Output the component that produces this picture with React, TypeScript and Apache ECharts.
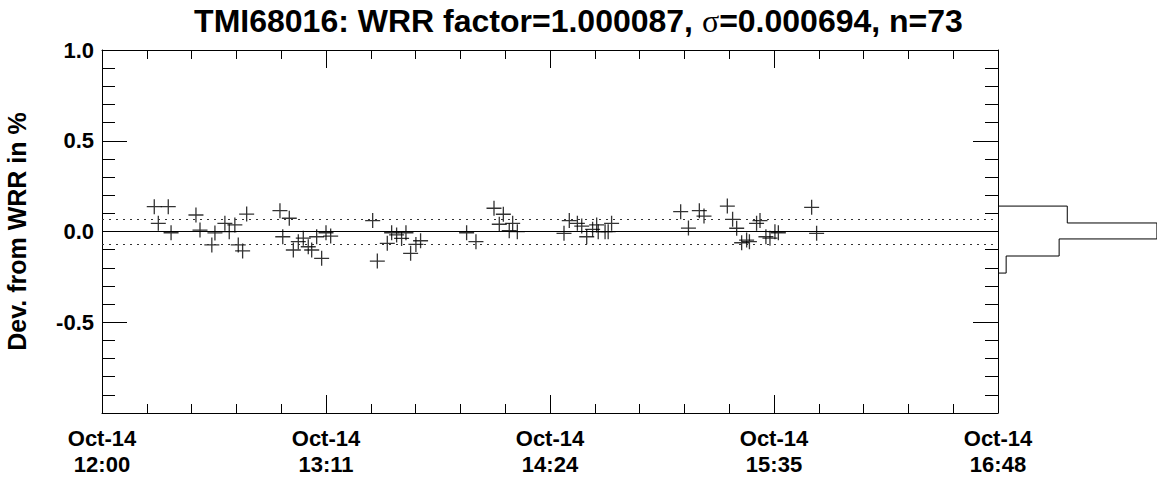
import React, { useEffect, useRef } from 'react';
import * as echarts from 'echarts';

// Minutes after 12:00 on Oct-14
const minutes = [
  16.8, 21.3, 18.1, 22.2, 30.2, 31.5, 36.3, 35.3, 39.5, 40.9, 42.7, 43.8, 45.2, 46.5, 57.2, 60.2, 58.1,
  61.5, 63.1, 64.7, 66.3, 67.4, 69.0, 70.6, 72.0, 73.5, 87.0, 88.5, 91.7, 93.1, 94.7, 96.3, 97.7, 99.2,
  100.9, 102.4, 117.2, 120.2,
  126.0, 129.0, 127.7, 132.0, 130.9, 133.5, 148.5, 150.2, 152.8, 154.2, 155.8, 157.7, 159.0, 159.5,
  161.7, 163.8, 162.7,
  186.0, 188.5, 192.0, 193.5, 201.0, 202.7, 204.0, 205.6, 207.2, 208.1, 210.4, 211.5, 213.4, 214.7,
  216.3, 217.4, 228.1, 229.7,
];
// Deviation from WRR in %
const deviations = [
  0.137, 0.137, 0.045, -0.007, 0.091, 0.008, -0.008, -0.074, 0.045, -0.001, 0.036, -0.074, -0.107, 0.096, 0.115, 0.073, -0.029,
  -0.102, -0.056, -0.037, -0.084, -0.102, -0.029, -0.148, -0.007, -0.025, 0.060, -0.163, -0.065, -0.007, -0.019, -0.038, -0.007, -0.120,
  -0.071, -0.051, -0.007, -0.056,
  0.128, 0.095, 0.040, 0.045, 0.004, -0.001, -0.010, 0.060, 0.045, 0.030, -0.029, 0.012, 0.036, -0.001,
  -0.001, 0.045, -0.001,
  0.109, 0.019, 0.115, 0.085, 0.140, 0.067, 0.018, -0.062, -0.047, -0.056, 0.045, 0.060, -0.029, -0.037,
  -0.001, -0.007, 0.133, -0.010,
];

const xTickLabels = ['Oct-14\n12:00', 'Oct-14\n13:11', 'Oct-14\n14:24', 'Oct-14\n15:35', 'Oct-14\n16:48'];
const xMax = 288;
const xStep = 72;
const zeroLine = 0;
const sigmaLines = [0.074, -0.065];
const histEdges = [0.14, 0.047, -0.041, -0.135, -0.229];
const histCounts = [17, 39, 15, 2];

const FONT = "'Liberation Sans', Arial, sans-serif";

export default function App() {
  const ref = useRef<HTMLDivElement>(null);
  useEffect(() => {
    if (!ref.current) return;
    const chart = echarts.init(ref.current, null, { renderer: 'svg' });
    const points = minutes.map((m, i) => [m, deviations[i]]);
    const hist: number[][] = [[0, histEdges[0]]];
    histCounts.forEach((c, i) => {
      hist.push([c, histEdges[i]]);
      hist.push([c, histEdges[i + 1]]);
    });
    hist.push([0, histEdges[histEdges.length - 1]]);

    const axisCommon = {
      axisLine: { show: true, onZero: false, lineStyle: { color: '#000', width: 1 } },
      splitLine: { show: false },
    };
    const xCommon = {
      ...axisCommon,
      type: 'value' as const,
      gridIndex: 0,
      min: 0,
      max: xMax,
      interval: xStep,
      axisTick: { show: true, inside: true, length: 18, lineStyle: { color: '#000' } },
      minorTick: { show: true, splitNumber: 5, length: 9, lineStyle: { color: '#000' } },
    };
    const yCommon = {
      ...axisCommon,
      type: 'value' as const,
      gridIndex: 0,
      min: -1,
      max: 1,
      interval: 0.5,
      axisTick: { show: true, inside: true, length: 25, lineStyle: { color: '#000' } },
      minorTick: { show: true, splitNumber: 5, length: 13, lineStyle: { color: '#000' } },
    };

    chart.setOption({
      animation: false,
      backgroundColor: '#fff',
      title: {
        text: 'TMI68016: WRR factor=1.000087, {s|σ}=0.000694, n=73',
        left: 'center',
        top: 0,
        textStyle: {
          fontFamily: FONT,
          fontWeight: 'bold',
          fontSize: 32,
          color: '#000',
          rich: {
            s: { fontFamily: "'Liberation Serif', 'DejaVu Serif', serif", fontWeight: 'normal', fontSize: 32, color: '#000' },
          },
        },
      },
      grid: [
        { left: 102, top: 50, width: 896, height: 363, outerBoundsMode: 'none', containLabel: false },
        { left: 998, top: 50, width: 163, height: 363, outerBoundsMode: 'none', containLabel: false },
      ],
      xAxis: [
        {
          ...xCommon,
          position: 'bottom',
          axisLabel: {
            show: true,
            margin: 12,
            fontFamily: FONT,
            fontWeight: 'bold',
            fontSize: 22,
            lineHeight: 26,
            color: '#000',
            formatter: (v: number) => xTickLabels[Math.round(v / xStep)] ?? '',
          },
        },
        { ...xCommon, position: 'top', axisLabel: { show: false } },
        { type: 'value', gridIndex: 1, min: 0, max: 40, show: false },
      ],
      yAxis: [
        {
          ...yCommon,
          position: 'left',
          name: 'Dev. from WRR in %',
          nameLocation: 'middle',
          nameGap: 73,
          nameRotate: 90,
          nameTextStyle: { fontFamily: FONT, fontWeight: 'bold', fontSize: 25, color: '#000' },
          axisLabel: {
            show: true,
            margin: 8,
            padding: [6, 0, 0, 0],
            fontFamily: FONT,
            fontWeight: 'bold',
            fontSize: 22,
            color: '#000',
            formatter: (v: number) => (v <= -1 ? '' : v.toFixed(1)),
          },
        },
        { ...yCommon, position: 'right', axisLabel: { show: false } },
        { type: 'value', gridIndex: 1, min: -1, max: 1, show: false },
      ],
      series: [
        {
          type: 'scatter',
          xAxisIndex: 0,
          yAxisIndex: 0,
          data: points,
          symbol: 'path://M7,0L7,14M0,7L14,7',
          symbolSize: 15,
          itemStyle: { color: 'none', borderColor: '#000', borderWidth: 1.3 },
          markLine: {
            silent: true,
            symbol: 'none',
            label: { show: false },
            data: [
              { yAxis: zeroLine, lineStyle: { type: 'solid', color: '#000', width: 1 } },
              ...sigmaLines.map((v) => ({ yAxis: v, lineStyle: { type: [2, 5], color: '#333', width: 1.2 } })),
            ],
          },
        },
        {
          type: 'line',
          xAxisIndex: 2,
          yAxisIndex: 2,
          data: hist,
          showSymbol: false,
          lineStyle: { color: '#000', width: 1 },
        },
      ],
    });
    return () => chart.dispose();
  }, []);
  return <div ref={ref} style={{ position: 'absolute', left: 0, top: 0, width: 1157, height: 480 }} />;
}
